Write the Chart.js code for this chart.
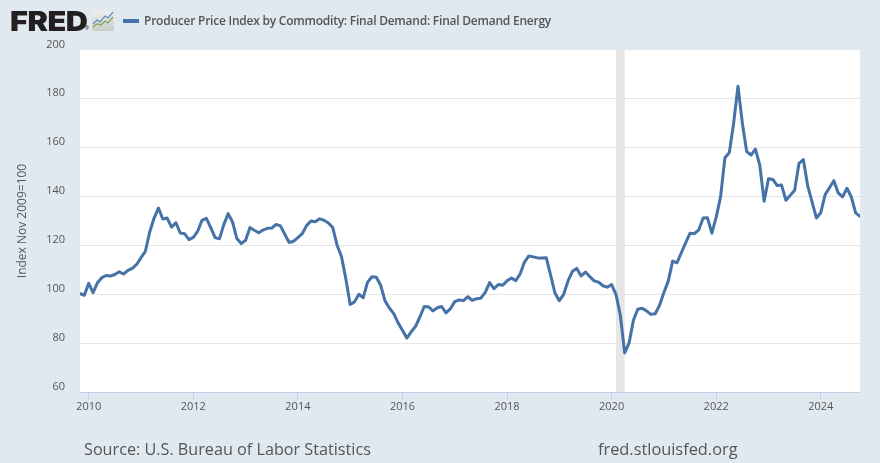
<!DOCTYPE html>
<html>
<head>
<meta charset="utf-8">
<style>
html,body{margin:0;padding:0;background:#e1e9f0;width:880px;height:463px;overflow:hidden}
#wrap{position:relative;width:880px;height:463px;font-family:"Open Sans",sans-serif;color:#555}
canvas{position:absolute;left:0;top:0}
.t{position:absolute;white-space:nowrap}
#logo{left:10px;top:3px;font:900 27.5px/36px Inter,sans-serif;color:#231f20;letter-spacing:-.4px;transform:scaleX(1.115);transform-origin:left center}
#reg{left:85px;top:25px;font:5px/6px "Open Sans",sans-serif;color:#231f20}
#icon{position:absolute;left:92px;top:11px}
#swatch{position:absolute;left:123px;top:18.5px;width:16px;height:4px;background:#4572a7}
#legend{left:144px;top:11.5px;font:600 12px/18px "Open Sans",sans-serif;letter-spacing:-.235px;color:#555}
#src{left:84px;top:438px;font:16.2px/22px "Open Sans",sans-serif;color:#555}
#url{left:598px;top:438px;font:16.35px/22px "Open Sans",sans-serif;color:#555}
</style>
</head>
<body>
<div id="wrap">
<canvas id="c" width="880" height="463"></canvas>
<div class="t" id="logo">FRED</div>
<div class="t" id="reg">®</div>
<svg id="icon" width="22" height="20" viewBox="0 0 22 20">
<defs><linearGradient id="g" x1="0" y1="0" x2="0" y2="1"><stop offset="0" stop-color="#eef0ee"/><stop offset="1" stop-color="#c9cbc6"/></linearGradient></defs>
<rect width="22" height="20" rx="2" fill="url(#g)"/>
<polyline points="1,13 5,9 8,11 13,5 16,7 21,1" fill="none" stroke="#5c8db8" stroke-width="1.2"/>
<polyline points="1,16 5,13 9,14 13,10 16,12 21,6" fill="none" stroke="#7fa35a" stroke-width="1.2"/>
</svg>
<div id="swatch"></div>
<div class="t" id="legend"></div>
<div class="t" id="src">Source: U.S. Bureau of Labor Statistics</div>
<div class="t" id="url">fred.stlouisfed.org</div>
</div>
<script src="https://cdn.jsdelivr.net/npm/chart.js@4"></script>
<script>
const seriesName = "Producer Price Index by Commodity: Final Demand: Final Demand Energy";
const yAxisTitle = "Index Nov 2009=100";
const firstYear = 2009, firstMonth = 11;
const yearTicks = [2010,2012,2014,2016,2018,2020,2022,2024];
const recessionStart = 123, recessionEnd = 125;
const values2009to2014 = [
100.3,99.6,104.5,100.7,104.7,106.8,107.7,107.5,108.1,109.2,108.3,109.8,110.6,112.2,115,117.6,
125.5,131.2,135.3,130.8,131.2,127.5,129.3,125.1,124.8,122.4,123.3,125.8,130.3,131.1,127.3,123.2,
122.7,128.5,133,129.6,122.8,120.8,122.1,127.3,126.2,125.2,126.3,127,127.1,128.6,128,124.6,
121.2,121.7,123.2,124.8,128.1,130,129.7,130.9,130.3,129.2,127.3,120.1];
const values2014to2020 = [
115.5,106.4,95.8,96.9,100,98.6,105,107.2,107,103.7,97.3,94.4,92.1,88.3,85.3,82.1,
84.6,86.9,90.7,95,94.8,93.2,94.5,95,92.4,94.1,97,97.7,97.4,99,97.5,98.2,
98.4,100.8,104.8,102.3,104,103.7,105.5,106.7,105.6,108.3,113.2,115.7,115.3,114.9,114.9,115,
107.8,100.5,97.4,100,105.5,109.4,110.6,107.5,109.1,107.2,105.5,105,103.5,102.9,104];
const values2020to2024 = [
100,91.4,76,80,89.4,93.9,94.3,93.2,91.8,92,95.5,100.7,105.4,113.6,112.9,117,121.1,125,124.8,126.4,
131.2,131.3,125,131.6,139.9,155.9,157.9,170,185.2,170,158.4,157,159.4,152.9,138.1,147.3,147,144.5,144.7,
138.5,140.5,142.6,153.6,155.1,144.4,137.8,131.2,133.4,140.8,143.6,146.5,141.5,139.9,143.4,139.9,133.3,131.9];
const values = [...values2009to2014, ...values2014to2020, ...values2020to2024];

document.getElementById('legend').textContent = seriesName;

const yearToIndex = y => (y - firstYear) * 12 + (1 - firstMonth);
const indexToYear = i => firstYear + Math.floor((i + firstMonth - 1) / 12);

const recessionBand = {
  id: 'recessionBand',
  beforeDatasetsDraw(chart) {
    const {ctx, chartArea: a, scales: {x}} = chart;
    const l = x.getPixelForValue(recessionStart), r = x.getPixelForValue(recessionEnd);
    ctx.save();
    ctx.fillStyle = '#e6e6e6';
    ctx.fillRect(l, a.top, r - l, a.bottom - a.top);
    ctx.restore();
  }
};
const plotWhite = {
  id: 'plotWhite',
  beforeDraw(chart) {
    const {ctx, chartArea: a} = chart;
    ctx.save();
    ctx.fillStyle = '#fff';
    ctx.fillRect(a.left, a.top, a.right - a.left, a.bottom - a.top);
    ctx.restore();
  }
};

new Chart(document.getElementById('c'), {
  type: 'line',
  plugins: [plotWhite, recessionBand],
  data: {
    datasets: [{
      label: seriesName,
      data: values.map((v, i) => ({x: i, y: v})),
      borderColor: '#4572a7',
      borderWidth: 3,
      pointRadius: 0,
      tension: 0,
      borderJoinStyle: 'round',
      borderCapStyle: 'round'
    }]
  },
  options: {
    responsive: false,
    animation: false,
    layout: {padding: {left: 0, right: 20, top: 50, bottom: 0}},
    plugins: {legend: {display: false}, tooltip: {enabled: false}},
    scales: {
      x: {
        type: 'linear',
        min: 0,
        max: values.length - 1,
        afterBuildTicks: s => { s.ticks = yearTicks.map(y => ({value: yearToIndex(y)})); },
        afterFit: s => { s.height = 71; },
        ticks: {
          autoSkip: false, maxRotation: 0, padding: 0,
          color: '#555',
          font: {family: '"Open Sans"', size: 11},
          callback: v => String(indexToYear(v))
        },
        grid: {drawOnChartArea: false, drawTicks: true, tickLength: 8, tickColor: '#c0d0e6', lineWidth: 1},
        border: {display: true, color: '#c0d0e6', width: 1}
      },
      y: {
        min: 60,
        max: 200,
        afterFit: s => { s.width = 80; },
        title: {
          display: true, text: yAxisTitle, color: '#555',
          font: {family: '"Open Sans"', size: 12},
          padding: {top: 15, bottom: 0}
        },
        ticks: {
          stepSize: 20, padding: 15, labelOffset: -5.5,
          color: '#555',
          font: {family: '"Open Sans"', size: 11}
        },
        grid: {
          drawTicks: false, lineWidth: 1,
          color: c => (c.tick.value === 200 || c.tick.value === 60) ? 'rgba(0,0,0,0)' : '#e6e6e6'
        },
        border: {display: false}
      }
    }
  }
});
</script>
</body>
</html>
